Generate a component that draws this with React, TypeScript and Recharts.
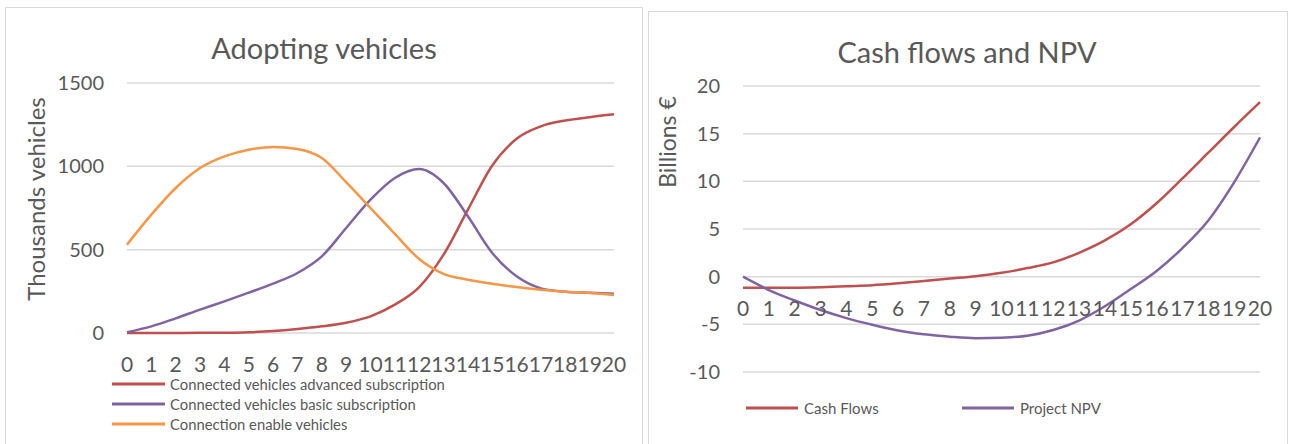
import React from 'react';
import { LineChart, Line, XAxis, YAxis, CartesianGrid, Legend, Label } from 'recharts';

const years = [0, 1, 2, 3, 4, 5, 6, 7, 8, 9, 10, 11, 12, 13, 14, 15, 16, 17, 18, 19, 20];
const advancedSub = [0, 0, 0, 1, 2, 5, 12, 24, 40, 62, 100, 170, 275, 470, 740, 1005, 1165, 1240, 1275, 1295, 1312];
const basicSub = [5, 40, 88, 140, 190, 242, 296, 360, 460, 630, 800, 930, 984, 900, 700, 480, 340, 268, 248, 242, 236];
const enabledVehicles = [530, 710, 870, 990, 1060, 1100, 1116, 1104, 1050, 905, 750, 595, 444, 355, 320, 296, 276, 260, 248, 240, 228];
const adoptTicks = [0, 500, 1000, 1500];

const cashFlows = [-1.15, -1.15, -1.15, -1.1, -1.0, -0.9, -0.7, -0.45, -0.2, 0.05, 0.4, 0.9, 1.5, 2.5, 3.8, 5.5, 7.7, 10.3, 13.0, 15.7, 18.3];
const projectNpv = [0, -1.4, -2.5, -3.5, -4.35, -5.05, -5.65, -6.05, -6.3, -6.45, -6.4, -6.2, -5.6, -4.6, -3.1, -1.3, 0.6, 3.0, 5.9, 9.9, 14.6];
const cashTicks = [-10, -5, 0, 5, 10, 15, 20];

const adoptData = years.map((y, i) => ({
  year: String(y),
  advanced: advancedSub[i],
  basic: basicSub[i],
  enabled: enabledVehicles[i],
}));
const cashData = years.map((y, i) => ({ year: String(y), cash: cashFlows[i], npv: projectNpv[i] }));

const FONT = 'Lato, "Open Sans", sans-serif';
const TXT = '#595959';
const GRID = '#d9d9d9';
const RED = '#c0504d';
const PURPLE = '#8064a2';
const ORANGE = '#f79646';

// right chart layout
const C_TOP = 86;
const C_BOTTOM = 72;
const C_H = 444;
const C_PLOT_H = C_H - C_TOP - C_BOTTOM;
const C_MIN = -10;
const C_MAX = 20;
const zeroShift = (C_PLOT_H * (0 - C_MIN)) / (C_MAX - C_MIN);

const AdoptLegend = (props: any) => {
  const { payload } = props;
  return (
    <div style={{ fontFamily: FONT }}>
      {(payload || []).map((p: any) => (
        <div key={p.value} style={{ display: 'flex', alignItems: 'center', height: 20 }}>
          <svg width={53} height={4} style={{ display: 'block' }}>
            <line x1={0} y1={2} x2={53} y2={2} stroke={p.color} strokeWidth={3} />
          </svg>
          <span style={{ marginLeft: 5, fontSize: 14.8, color: TXT, whiteSpace: 'nowrap' }}>{p.value}</span>
        </div>
      ))}
    </div>
  );
};

const CashLegend = (props: any) => {
  const { payload } = props;
  return (
    <div style={{ fontFamily: FONT, display: 'flex' }}>
      {(payload || []).map((p: any) => (
        <div key={p.value} style={{ display: 'flex', alignItems: 'center', height: 20, width: 216 }}>
          <svg width={52} height={4} style={{ display: 'block' }}>
            <line x1={0} y1={2} x2={52} y2={2} stroke={p.color} strokeWidth={3} />
          </svg>
          <span style={{ marginLeft: 6, fontSize: 15, color: TXT, whiteSpace: 'nowrap' }}>{p.value}</span>
        </div>
      ))}
    </div>
  );
};

const CashTick = (props: any) => {
  const { x, y, payload } = props;
  return (
    <text x={x} y={y - zeroShift} dy="0.71em" textAnchor="middle" fill={TXT} fontSize={21} fontFamily={FONT}>
      {payload.value}
    </text>
  );
};

const axisTitle = (text: string, x: number, y: number, size: number) => () => (
  <text
    x={x}
    y={y}
    transform={`rotate(-90 ${x} ${y})`}
    textAnchor="middle"
    dominantBaseline="central"
    fill={TXT}
    fontSize={size}
    fontFamily={FONT}
  >
    {text}
  </text>
);

export default function App() {
  return (
    <div style={{ position: 'absolute', left: 0, top: 0, width: 1292, height: 444, overflow: 'hidden', background: '#fff', fontFamily: FONT }}>
      <div style={{ position: 'absolute', left: 5, top: 7, width: 636, height: 460, border: `1px solid ${GRID}` }} />
      <div style={{ position: 'absolute', left: 648, top: 11, width: 638, height: 460, border: `1px solid ${GRID}` }} />

      <div style={{ position: 'absolute', left: 0, top: 0, width: 645, height: 444 }}>
        <div style={{ position: 'absolute', left: 0, width: 648, top: 30, textAlign: 'center', fontSize: 29, color: TXT, lineHeight: '36px' }}>
          Adopting vehicles
        </div>
        <LineChart width={645} height={444} data={adoptData} margin={{ top: 83, right: 31, left: 0, bottom: 81 }}>
          <CartesianGrid horizontal vertical={false} stroke={GRID} strokeWidth={1.5} />
          <XAxis
            dataKey="year"
            height={30}
            interval={0}
            axisLine={false}
            tickLine={false}
            tickSize={0}
            tickMargin={24}
            tick={{ fill: TXT, fontSize: 21, fontFamily: FONT }}
          />
          <YAxis
            width={127}
            domain={[0, 1500]}
            ticks={adoptTicks}
            axisLine={false}
            tickLine={false}
            tickSize={0}
            tickMargin={23}
            tick={{ fill: TXT, fontSize: 20, fontFamily: FONT }}
          >
            <Label content={axisTitle('Thousands vehicles', 35, 199, 24)} />
          </YAxis>
          <Legend
            layout="vertical"
            align="center"
            verticalAlign="middle"
            wrapperStyle={{ position: 'absolute', left: 112, top: 374, width: 420 }}
            content={AdoptLegend}
          />
          <Line type="monotone" dataKey="advanced" name="Connected vehicles advanced subscription" stroke={RED} strokeWidth={2.5} dot={false} isAnimationActive={false} />
          <Line type="monotone" dataKey="basic" name="Connected vehicles basic subscription" stroke={PURPLE} strokeWidth={2.5} dot={false} isAnimationActive={false} />
          <Line type="monotone" dataKey="enabled" name="Connection enable vehicles" stroke={ORANGE} strokeWidth={2.5} dot={false} isAnimationActive={false} />
        </LineChart>
      </div>

      <div style={{ position: 'absolute', left: 646, top: 0, width: 646, height: 444 }}>
        <div style={{ position: 'absolute', left: 0, width: 642, top: 34, textAlign: 'center', fontSize: 29, color: TXT, lineHeight: '36px' }}>
          Cash flows and NPV
        </div>
        <LineChart width={646} height={C_H} data={cashData} margin={{ top: C_TOP, right: 32, left: 0, bottom: C_BOTTOM - 30 }}>
          <CartesianGrid horizontal vertical={false} stroke={GRID} strokeWidth={1.5} />
          <XAxis
            dataKey="year"
            height={30}
            interval={0}
            axisLine={false}
            tickLine={false}
            tickSize={0}
            tickMargin={24}
            tick={<CashTick />}
          />
          <YAxis
            width={97}
            domain={[C_MIN, C_MAX]}
            ticks={cashTicks}
            axisLine={false}
            tickLine={false}
            tickSize={0}
            tickMargin={23}
            tick={{ fill: TXT, fontSize: 20, fontFamily: FONT }}
          >
            <Label content={axisTitle('Billions €', 21, 142, 23)} />
          </YAxis>
          <Legend
            layout="vertical"
            align="center"
            verticalAlign="middle"
            wrapperStyle={{ position: 'absolute', left: 100, top: 398, width: 480 }}
            content={CashLegend}
          />
          <Line type="monotone" dataKey="cash" name="Cash Flows" stroke={RED} strokeWidth={2.5} dot={false} isAnimationActive={false} />
          <Line type="monotone" dataKey="npv" name="Project NPV" stroke={PURPLE} strokeWidth={2.5} dot={false} isAnimationActive={false} />
        </LineChart>
      </div>
    </div>
  );
}
